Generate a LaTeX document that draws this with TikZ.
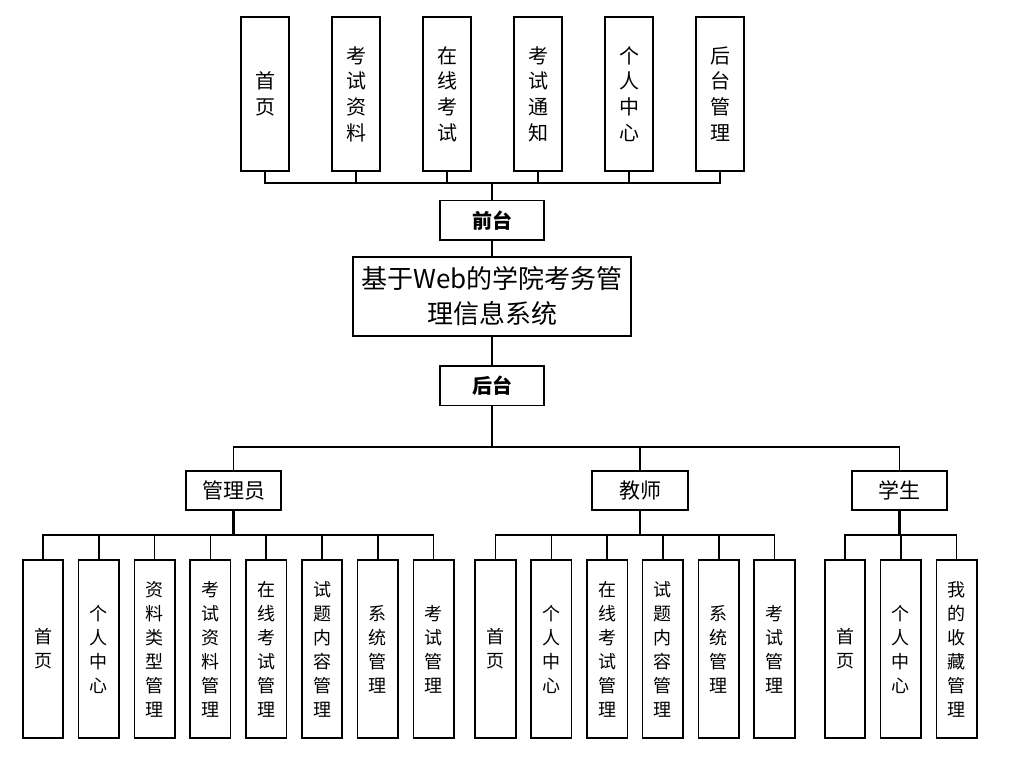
\documentclass[tikz,border=0pt]{standalone}
\usepackage{fontspec}
\setmainfont{Noto Sans CJK SC}
\usetikzlibrary{positioning}

\begin{document}
\begin{tikzpicture}[
    x=1pt, y=-1pt,
    box/.style={rectangle, align=center, draw=black, line width=1.6pt, inner sep=1pt},
    sysbox/.style={box, minimum width=278.5pt, minimum height=79.5pt, font=\fontsize{26}{35}\selectfont},
    partbox/.style={box, minimum width=103.5pt, minimum height=39.5pt, font=\fontsize{20}{24}\selectfont\bfseries},
    topbox/.style={box, minimum width=48pt, minimum height=154.5pt, font=\fontsize{20}{25.7}\selectfont},
    rolebox/.style={box, minimum width=95.5pt, minimum height=38.5pt, font=\fontsize{21}{25}\selectfont},
    leafbox/.style={box, minimum width=40.5pt, minimum height=178.5pt, font=\fontsize{18}{24}\selectfont},
    line/.style={line width=1.6pt},
    stem/.style={line width=2.6pt}
]
    \useasboundingbox (0,0) rectangle (1011,759);

    % System
    \node[sysbox] (system) at (492,296.5) {基于Web的学院考务管\\理信息系统};
    \node[partbox, above=15pt of system] (front) {前台};
    \node[partbox, below=28pt of system] (back) {后台};

    % Front modules
    \node[topbox] (fHome) at (265,94) {首\\页};
    \node[topbox, right=41.4pt of fHome] (fMaterial) {考\\试\\资\\料};
    \node[topbox, right=41.4pt of fMaterial] (fOnline) {在\\线\\考\\试};
    \node[topbox, right=41.4pt of fOnline] (fNotice) {考\\试\\通\\知};
    \node[topbox, right=41.4pt of fNotice] (fCenter) {个\\人\\中\\心};
    \node[topbox, right=41.4pt of fCenter] (fAdmin) {后\\台\\管\\理};

    % Roles
    \node[rolebox] (admin) at (233.5,490.5) {管理员};
    \node[rolebox] (teacher) at (640,490.5) {教师};
    \node[rolebox] (student) at (899.5,490.5) {学生};

    % Admin modules
    \node[leafbox] (aHome) at (43,649) {首\\页};
    \node[leafbox, right=13.7pt of aHome] (aCenter) {个\\人\\中\\心};
    \node[leafbox, right=13.7pt of aCenter] (aType) {资\\料\\类\\型\\管\\理};
    \node[leafbox, right=13.7pt of aType] (aMaterial) {考\\试\\资\\料\\管\\理};
    \node[leafbox, right=13.7pt of aMaterial] (aOnline) {在\\线\\考\\试\\管\\理};
    \node[leafbox, right=13.7pt of aOnline] (aQuestion) {试\\题\\内\\容\\管\\理};
    \node[leafbox, right=13.7pt of aQuestion] (aSystem) {系\\统\\管\\理};
    \node[leafbox, right=13.7pt of aSystem] (aExam) {考\\试\\管\\理};

    % Teacher modules
    \node[leafbox] (tHome) at (495.5,649) {首\\页};
    \node[leafbox, right=13.7pt of tHome] (tCenter) {个\\人\\中\\心};
    \node[leafbox, right=13.7pt of tCenter] (tOnline) {在\\线\\考\\试\\管\\理};
    \node[leafbox, right=13.7pt of tOnline] (tQuestion) {试\\题\\内\\容\\管\\理};
    \node[leafbox, right=13.7pt of tQuestion] (tSystem) {系\\统\\管\\理};
    \node[leafbox, right=13.7pt of tSystem] (tExam) {考\\试\\管\\理};

    % Student modules
    \node[leafbox] (sHome) at (845,649) {首\\页};
    \node[leafbox, right=13.7pt of sHome] (sCenter) {个\\人\\中\\心};
    \node[leafbox, right=13.7pt of sCenter] (sFavor) {我\\的\\收\\藏\\管\\理};

    % Bus points
    \coordinate (frontBus) at (492,183);
    \coordinate (backBus) at (492,447);
    \coordinate (adminBus) at (233.5,535);
    \coordinate (teacherBus) at (640,535);
    \coordinate (studentBus) at (899.5,535);

    % Connections, front
    \draw[line] (front) -- (frontBus);
    \draw[line] (fHome.south) |- (frontBus) -| (fAdmin.south);
    \draw[line] (fMaterial.south) -- (fMaterial.south |- frontBus);
    \draw[line] (fOnline.south) -- (fOnline.south |- frontBus);
    \draw[line] (fNotice.south) -- (fNotice.south |- frontBus);
    \draw[line] (fCenter.south) -- (fCenter.south |- frontBus);
    \draw[line] (front) -- (system);

    % Connections, back
    \draw[line] (system) -- (back);
    \draw[line] (back) -- (backBus);
    \draw[line] (admin.north) |- (backBus) -| (student.north);
    \draw[line] (teacher.north) -- (teacher.north |- backBus);

    % Admin
    \draw[stem] (admin.south) -- (adminBus);
    \draw[line] (aHome.north) |- (adminBus) -| (aExam.north);
    \draw[line] (aCenter.north) -- (aCenter.north |- adminBus);
    \draw[line] (aType.north) -- (aType.north |- adminBus);
    \draw[line] (aMaterial.north) -- (aMaterial.north |- adminBus);
    \draw[line] (aOnline.north) -- (aOnline.north |- adminBus);
    \draw[line] (aQuestion.north) -- (aQuestion.north |- adminBus);
    \draw[line] (aSystem.north) -- (aSystem.north |- adminBus);

    % Teacher
    \draw[stem] (teacher.south) -- (teacherBus);
    \draw[line] (tHome.north) |- (teacherBus) -| (tExam.north);
    \draw[line] (tCenter.north) -- (tCenter.north |- teacherBus);
    \draw[line] (tOnline.north) -- (tOnline.north |- teacherBus);
    \draw[line] (tQuestion.north) -- (tQuestion.north |- teacherBus);
    \draw[line] (tSystem.north) -- (tSystem.north |- teacherBus);

    % Student
    \draw[stem] (student.south) -- (studentBus);
    \draw[line] (sHome.north) |- (studentBus) -| (sFavor.north);
    \draw[line] (sCenter.north) -- (sCenter.north |- studentBus);

\end{tikzpicture}
\end{document}
